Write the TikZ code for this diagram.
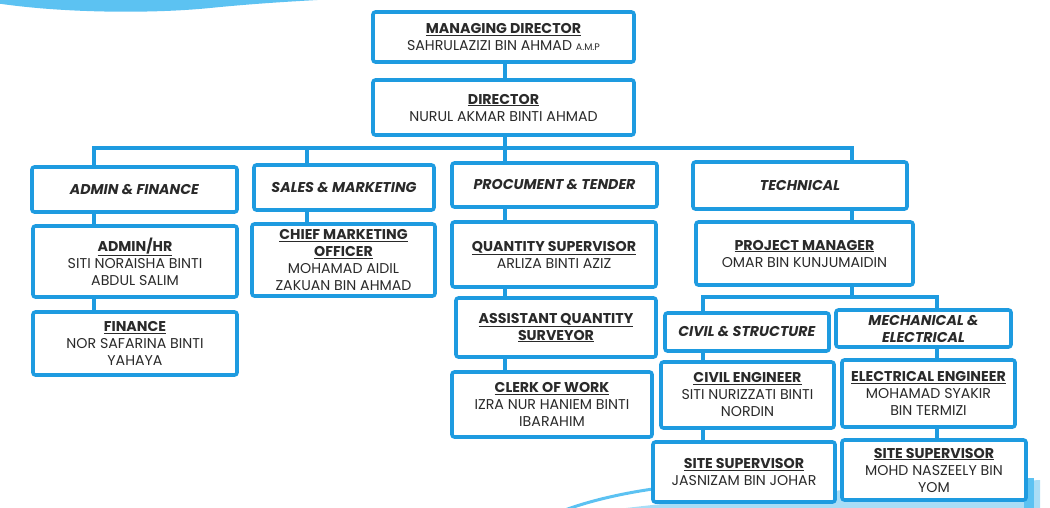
\documentclass[tikz,border=0pt]{standalone}
\usepackage{fontspec}
\setmainfont{Poppins}
\definecolor{boxblue}{HTML}{1E9BE0}
\definecolor{decoblue}{HTML}{5CC2F2}
\definecolor{decolight}{HTML}{A9DDF6}
\definecolor{txt}{HTML}{2A2A2A}
\tikzset{
  orgbox/.style={draw=boxblue, line width=3.6pt, rounded corners=2.5pt, fill=white,
    align=center, text=txt, inner sep=1pt, font=\fontsize{14.2}{17}\selectfont},
  link/.style={draw=boxblue, line width=3.6pt}
}
\newcommand{\hd}[1]{\textbf{\underline{#1}}}
\newcommand{\dept}[1]{\textbf{\textit{#1}}}
\begin{document}
\begin{tikzpicture}[x=1pt,y=-1pt]
\useasboundingbox (0,0) rectangle (1050,508);
% decorations
\fill[decoblue] (-5,-5) -- (-5,3) .. controls (60,13) and (150,14) .. (210,8)
  .. controls (260,3) and (300,1) .. (335,-1) -- (335,-5) -- cycle;
\fill[decolight] (610,510) .. controls (750,492) and (900,488) .. (1040,480) -- (1040,510) -- cycle;
\draw[decoblue, line width=3pt] (565,510) .. controls (595,499) and (630,492) .. (660,488);
\fill[decoblue] (1024,478) rectangle (1034,510);

% boxes
\node[orgbox, minimum width=261pt, minimum height=50pt] (MD) at (503.5,37)
  {\hd{MANAGING DIRECTOR}\\SAHRULAZIZI BIN AHMAD {\fontsize{9.5}{10}\selectfont A.M.P}};
\node[orgbox, minimum width=261pt, minimum height=55pt] (DIR) at (503.5,107.5)
  {\hd{DIRECTOR}\\NURUL AKMAR BINTI AHMAD};
\node[orgbox, minimum width=205pt, minimum height=45pt] (AF) at (134.5,189.5) {\dept{ADMIN \& FINANCE}};
\node[orgbox, minimum width=180pt, minimum height=45pt] (SM) at (344,187.5) {\dept{SALES \& MARKETING}};
\node[orgbox, minimum width=205pt, minimum height=44pt] (PT) at (554.5,185) {\dept{PROCUMENT \& TENDER}};
\node[orgbox, minimum width=214pt, minimum height=47pt] (TECH) at (800,185.5) {\dept{TECHNICAL}};
\node[orgbox, minimum width=204pt, minimum height=71pt] (AHR) at (135,261.5)
  {\hd{ADMIN/HR}\\SITI NORAISHA BINTI\\ABDUL SALIM};
\node[orgbox, minimum width=204pt, minimum height=63pt] (FIN) at (135,343.5)
  {\hd{FINANCE}\\NOR SAFARINA BINTI\\YAHAYA};
\node[orgbox, minimum width=183pt, minimum height=72pt] (CMO) at (343.5,260)
  {\hd{CHIEF MARKETING}\\\hd{OFFICER}\\MOHAMAD AIDIL\\ZAKUAN BIN AHMAD};
\node[orgbox, minimum width=204pt, minimum height=65pt] (QS) at (554,254.5)
  {\hd{QUANTITY SUPERVISOR}\\ARLIZA BINTI AZIZ};
\node[orgbox, minimum width=200pt, minimum height=59pt] (AQS) at (556,327.5)
  {\hd{ASSISTANT QUANTITY}\\\hd{SURVEYOR}};
\node[orgbox, minimum width=200pt, minimum height=65pt] (CLK) at (552,404.5)
  {\hd{CLERK OF WORK}\\IZRA NUR HANIEM BINTI\\IBARAHIM};
\node[orgbox, minimum width=217pt, minimum height=63pt] (PM) at (804.5,253.5)
  {\hd{PROJECT MANAGER}\\OMAR BIN KUNJUMAIDIN};
\node[orgbox, minimum width=164pt, minimum height=38pt] (CS) at (747,332) {\dept{CIVIL \& STRUCTURE}};
\node[orgbox, minimum width=175pt, minimum height=37pt] (ME) at (923.5,328.5) {\dept{MECHANICAL \&}\\\dept{ELECTRICAL}};
\node[orgbox, minimum width=173pt, minimum height=66pt] (CE) at (747.5,395)
  {\hd{CIVIL ENGINEER}\\SITI NURIZZATI BINTI\\NORDIN};
\node[orgbox, minimum width=173pt, minimum height=67pt] (EE) at (928.5,393.5)
  {\hd{ELECTRICAL ENGINEER}\\MOHAMAD SYAKIR\\BIN TERMIZI};
\node[orgbox, minimum width=182pt, minimum height=60pt] (SS1) at (744,472)
  {\hd{SITE SUPERVISOR}\\JASNIZAM BIN JOHAR};
\node[orgbox, minimum width=184pt, minimum height=60pt] (SS2) at (934,470)
  {\hd{SITE SUPERVISOR}\\MOHD NASZEELY BIN\\YOM};

% connector guides
\coordinate (bus) at (0,148);
\coordinate (sub) at (0,297);
\coordinate (xa) at (94,0);
\coordinate (xs) at (307,0);
\coordinate (xp) at (505,0);
\coordinate (xt) at (852,0);
\coordinate (xc) at (703,0);
\coordinate (xm) at (937,0);

% connectors
\draw[link] (MD.south -| xp) -- (DIR.north -| xp);
\draw[link] (DIR.south -| xp) -- (bus -| xp) -- (PT.north -| xp);
\draw[link] (AF.north -| xa) -- (bus -| xa) -- (bus -| xt) -- (TECH.north -| xt);
\draw[link] (bus -| xs) -- (SM.north -| xs);
\draw[link] (AF.south -| xa) -- (AHR.north -| xa);
\draw[link] (AHR.south -| xa) -- (FIN.north -| xa);
\draw[link] (SM.south -| xs) -- (CMO.north -| xs);
\draw[link] (PT.south -| xp) -- (QS.north -| xp);
\draw[link] (QS.south -| xp) -- (AQS.north -| xp);
\draw[link] (AQS.south -| xp) -- (CLK.north -| xp);
\draw[link] (TECH.south -| xt) -- (PM.north -| xt);
\draw[link] (PM.south -| xt) -- (sub -| xt);
\draw[link] (CS.north -| xc) -- (sub -| xc) -- (sub -| xm) -- (ME.north -| xm);
\draw[link] (CS.south -| xc) -- (CE.north -| xc);
\draw[link] (CE.south -| xc) -- (SS1.north -| xc);
\draw[link] (ME.south -| xm) -- (EE.north -| xm);
\draw[link] (EE.south -| xm) -- (SS2.north -| xm);
\end{tikzpicture}
\end{document}
